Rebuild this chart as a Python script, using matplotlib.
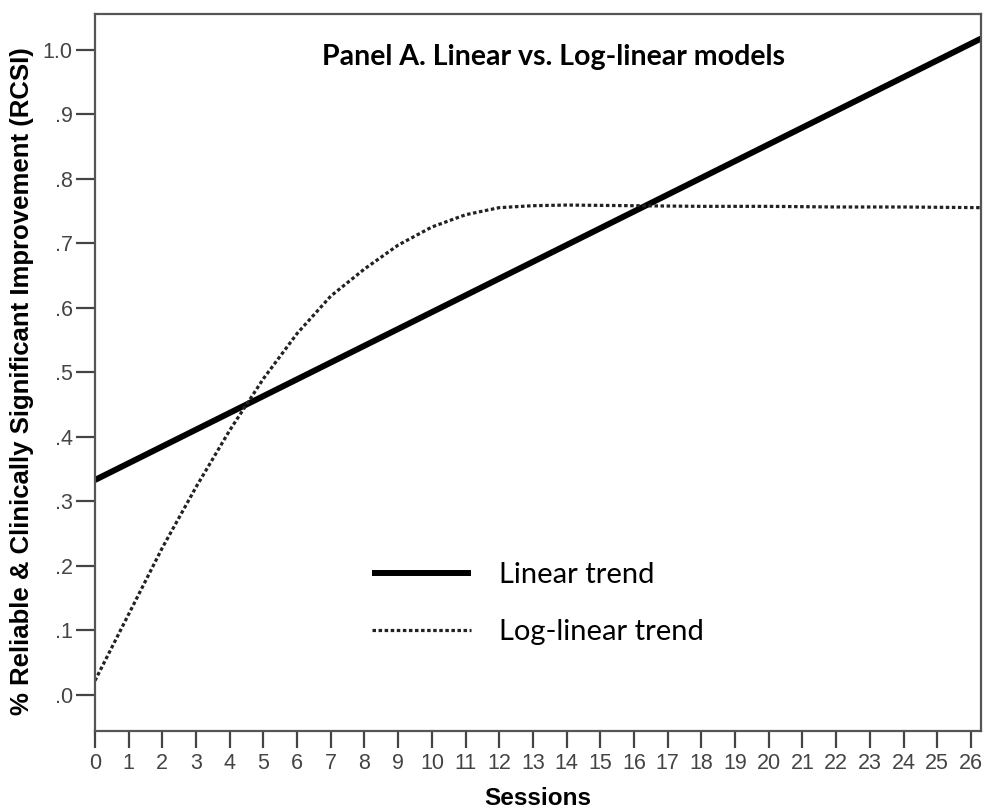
import matplotlib
matplotlib.use("Agg")
import matplotlib.pyplot as plt
from matplotlib.lines import Line2D

# Data
linear_x = [0, 26.3]
linear_y = [0.333, 1.017]

loglin_x = [0, 1, 2, 3, 4, 5, 6, 7, 8, 9, 10, 11, 12, 13, 14, 16, 18, 20, 22, 24, 26.3]
loglin_y = [0.022, 0.125, 0.228, 0.322, 0.410, 0.490, 0.560, 0.618, 0.660, 0.697,
            0.725, 0.744, 0.755, 0.758, 0.759, 0.758, 0.757, 0.757, 0.756, 0.756, 0.755]

x_ticks = list(range(0, 27))
y_ticks = [0.0, 0.1, 0.2, 0.3, 0.4, 0.5, 0.6, 0.7, 0.8, 0.9, 1.0]
y_tick_labels = [".0", ".1", ".2", ".3", ".4", ".5", ".6", ".7", ".8", ".9", "1.0"]

title = "Panel A. Linear vs. Log-linear models"
xlabel = "Sessions"
ylabel = "% Reliable & Clinically Significant Improvement (RCSI)"

fig = plt.figure(figsize=(9.86, 8.11), dpi=100)
ax = fig.add_axes([0.0963, 0.0986, 0.8987, 0.8841])

ax.plot(linear_x, linear_y, color="black", lw=4.3, solid_capstyle="butt", label="Linear trend")
ax.plot(loglin_x, loglin_y, color="#222222", lw=2.3, linestyle=(0, (1.1, 0.8)), label="Log-linear trend")

ax.set_xlim(0, 26.3)
ax.set_ylim(-0.056, 1.055)
ax.set_xticks(x_ticks)
ax.set_xticklabels([str(t) for t in x_ticks], fontfamily="Liberation Sans", fontsize=15.5, color="#444444")
ax.set_yticks(y_ticks)
ax.set_yticklabels(y_tick_labels, fontfamily="Liberation Sans", fontsize=15.5, color="#444444")
ax.tick_params(axis="x", direction="out", length=12, width=1.6, color="#444444", pad=4)
ax.tick_params(axis="y", direction="out", length=14, width=1.6, color="#444444", pad=2)
for s in ax.spines.values():
    s.set_color("#555555")
    s.set_linewidth(1.6)

ax.set_xlabel(xlabel, fontfamily="Liberation Sans", fontweight="bold", fontsize=17.5, labelpad=9)
ax.set_ylabel(ylabel, fontfamily="Liberation Sans", fontweight="bold", fontsize=18.5,
              va="center", ha="center")
ax.yaxis.set_label_coords(-0.082, 0.488)

ax.text(0.517, 0.940, title, transform=ax.transAxes, ha="center", va="center",
        fontfamily="Lato", fontweight="bold", fontsize=20.5)

handles = [Line2D([], [], color="black", lw=4.3, solid_capstyle="butt"),
           Line2D([], [], color="#222222", lw=2.3, linestyle=(0, (1.1, 0.8)))]
leg = ax.legend(handles, ["Linear trend", "Log-linear trend"], loc="upper left",
                bbox_to_anchor=(0.3126, 0.236), frameon=False, handlelength=3.4,
                handletextpad=0.95, labelspacing=1.07, borderpad=0, borderaxespad=0,
                prop={"family": "Lato", "size": 21})

fig.savefig("out.png", dpi=100)
